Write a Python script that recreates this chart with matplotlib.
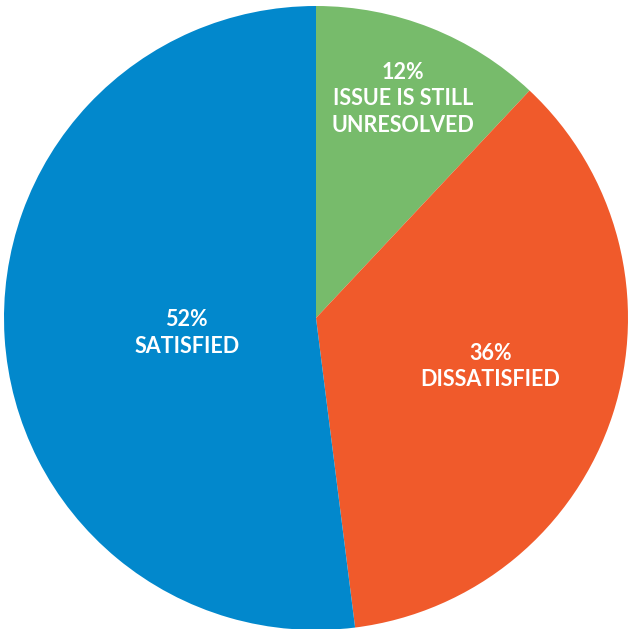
import matplotlib
matplotlib.use("Agg")
import matplotlib.pyplot as plt
import numpy as np

labels = ["ISSUE IS STILL\nUNRESOLVED", "DISSATISFIED", "SATISFIED"]
values = [12, 36, 52]
colors = ["#77BB6B", "#F05A2B", "#0288CC"]
label_r = [0.755, 0.58, 0.417]
label_dang = [0.0, 2.5, 3.0]

fig = plt.figure(figsize=(6.28, 6.29), dpi=100)
ax = fig.add_axes([0, 0, 1, 1])
ax.axis("off")

wedges, _ = ax.pie(values, colors=colors, startangle=90, counterclock=False,
                   radius=1.0, wedgeprops=dict(linewidth=0))

ax.set_aspect("auto")
ax.set_xlim(-316 / 312, (628 - 316) / 312)
ax.set_ylim(-(629 - 318) / 312, 318 / 312)

for w, lab, v, r, da in zip(wedges, labels, values, label_r, label_dang):
    mid = np.deg2rad((w.theta1 + w.theta2) / 2 + da)
    x, y = r * np.cos(mid), r * np.sin(mid)
    ax.text(x, y, f"{v}%\n{lab}", ha="center", va="center", color="white",
            fontsize=15.5, family="Lato", weight="bold", linespacing=1.3)

fig.savefig("out.png", dpi=100)
